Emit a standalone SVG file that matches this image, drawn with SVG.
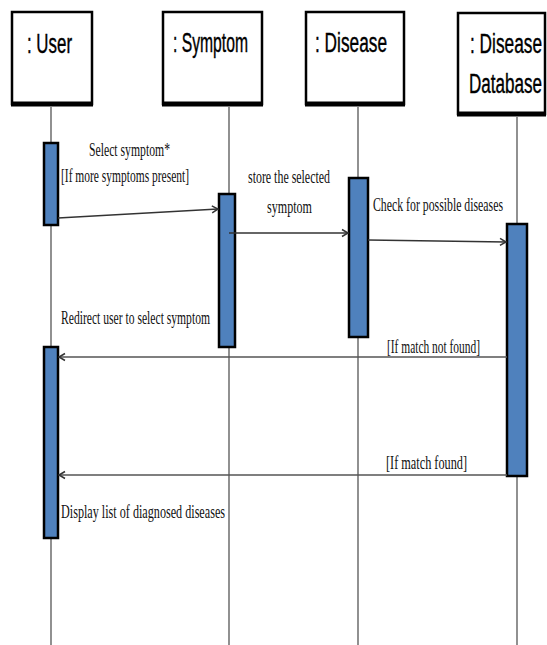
<svg xmlns="http://www.w3.org/2000/svg" width="547" height="645" viewBox="0 0 547 645">
<style>
.box{fill:#fff;stroke:#000;stroke-width:2.5}
.shadow{stroke:#000;stroke-width:5}
.life{stroke:#555;stroke-width:1.3;fill:none}
.act{fill:#4F81BD;stroke:#000;stroke-width:2.5}
.msg{stroke:#333;stroke-width:1.5;fill:none;marker-end:url(#ah)}
.ret{stroke:#555;stroke-width:1.5;fill:none;marker-end:url(#ah)}
.hd{font-family:"Liberation Sans",Arial,sans-serif;font-size:27px;fill:#000;stroke:#000;stroke-width:0.4}
.lb{font-family:"Liberation Serif","Times New Roman",serif;font-size:19px;fill:#111}
</style>
<defs>
<marker id="ah" markerWidth="10" markerHeight="10" refX="8" refY="5" orient="auto" markerUnits="userSpaceOnUse">
<path d="M2,1.5 L8,5 L2,8.5" fill="none" stroke="#333" stroke-width="1.5"/>
</marker>
</defs>
<rect width="547" height="645" fill="#fff"/>
<g id="lifelines">
<line class="life" x1="51" y1="107" x2="51" y2="645"/>
<line class="life" x1="229" y1="107" x2="229" y2="645"/>
<line class="life" x1="358" y1="107" x2="358" y2="645"/>
<line class="life" x1="517" y1="117" x2="517" y2="645"/>
</g>
<g id="user">
<rect class="box" x="12" y="12" width="80" height="92"/>
<line class="shadow" x1="11" y1="104" x2="93" y2="104"/>
<text class="hd" x="27" y="53" textLength="45" lengthAdjust="spacingAndGlyphs">: User</text>
</g>
<g id="symptom">
<rect class="box" x="163" y="12" width="99" height="92"/>
<line class="shadow" x1="162" y1="104" x2="263" y2="104"/>
<text class="hd" x="173" y="52" textLength="75" lengthAdjust="spacingAndGlyphs">: Symptom</text>
</g>
<g id="disease">
<rect class="box" x="306" y="12" width="98" height="92"/>
<line class="shadow" x1="305" y1="104" x2="405" y2="104"/>
<text class="hd" x="315" y="52" textLength="72" lengthAdjust="spacingAndGlyphs">: Disease</text>
</g>
<g id="database">
<rect class="box" x="458" y="13" width="87" height="101"/>
<line class="shadow" x1="457" y1="114" x2="546" y2="114"/>
<text class="hd" x="470" y="53" textLength="72" lengthAdjust="spacingAndGlyphs">: Disease</text>
<text class="hd" x="469" y="93" textLength="73" lengthAdjust="spacingAndGlyphs">Database</text>
</g>
<g id="activations">
<rect class="act" x="44" y="143" width="14" height="82"/>
<rect class="act" x="219" y="194" width="16" height="153"/>
<rect class="act" x="349" y="178" width="19" height="159"/>
<rect class="act" x="507" y="224" width="20" height="252"/>
<rect class="act" x="44" y="347" width="14" height="191"/>
</g>
<g id="connectors">
<line class="msg" x1="58" y1="218" x2="218" y2="209"/>
<line class="msg" x1="229" y1="233" x2="348" y2="233"/>
<line class="msg" x1="368" y1="240" x2="506" y2="242"/>
<line class="ret" x1="507" y1="357" x2="59" y2="357"/>
<line class="ret" x1="507" y1="475" x2="59" y2="475"/>
</g>
<g id="labels">
<text class="lb" x="89" y="156" textLength="81" lengthAdjust="spacingAndGlyphs">Select symptom*</text>
<text class="lb" x="61" y="182" textLength="128" lengthAdjust="spacingAndGlyphs">[If more symptoms present]</text>
<text class="lb" x="248" y="183" textLength="82" lengthAdjust="spacingAndGlyphs">store the selected</text>
<text class="lb" x="267" y="213" textLength="45" lengthAdjust="spacingAndGlyphs">symptom</text>
<text class="lb" x="373" y="211" textLength="130" lengthAdjust="spacingAndGlyphs">Check for possible diseases</text>
<text class="lb" x="61" y="324" textLength="149" lengthAdjust="spacingAndGlyphs">Redirect user to select symptom</text>
<text class="lb" x="387" y="353" textLength="93" lengthAdjust="spacingAndGlyphs">[If match not found]</text>
<text class="lb" x="386" y="469" textLength="81" lengthAdjust="spacingAndGlyphs">[If match found]</text>
<text class="lb" x="61" y="518" textLength="164" lengthAdjust="spacingAndGlyphs">Display list of diagnosed diseases</text>
</g>
</svg>
